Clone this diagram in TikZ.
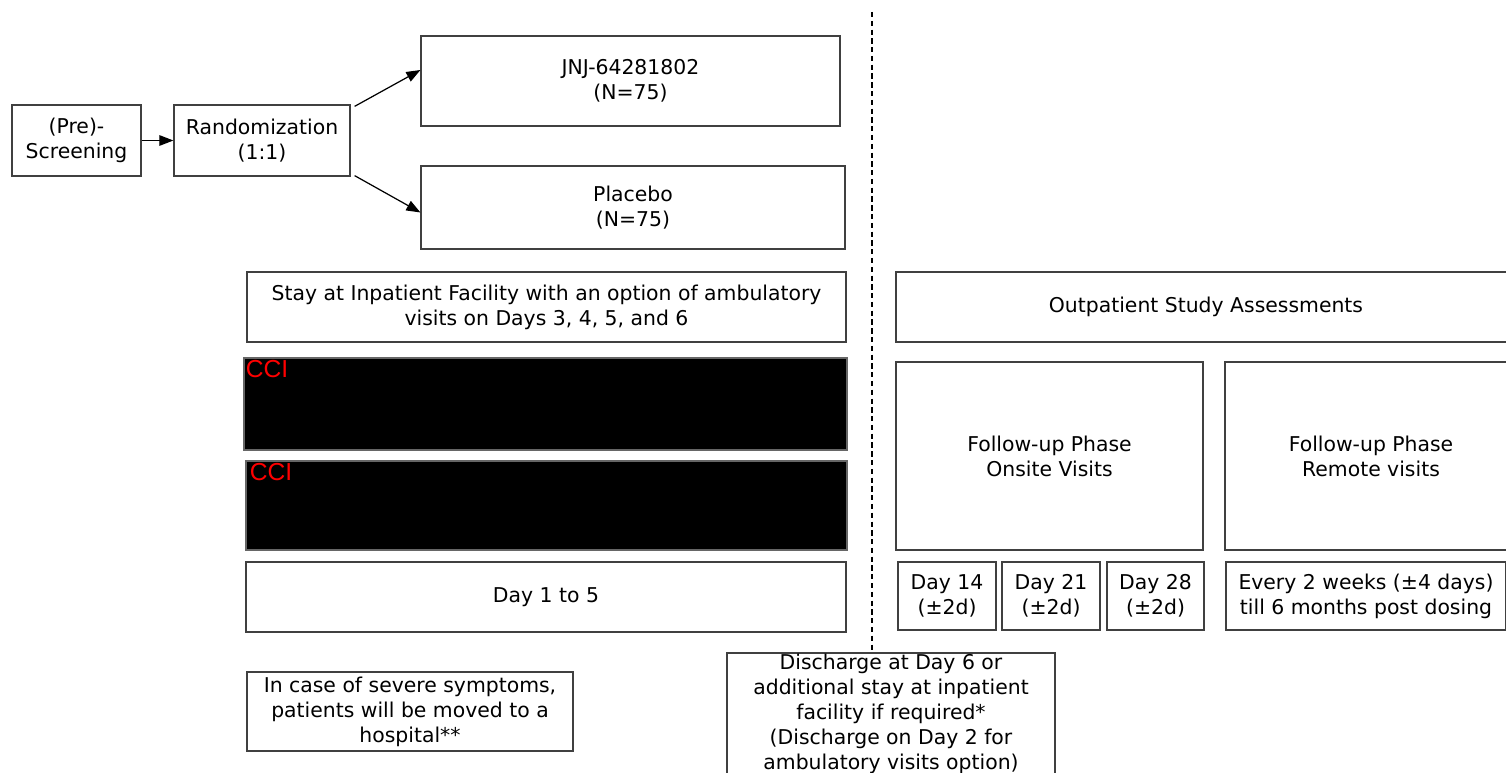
\documentclass[tikz,border=0pt]{standalone}
\usepackage{fontspec}
\setmainfont{DejaVu Sans}
\newfontfamily\ccifont{Liberation Sans}
\usepackage{xcolor}
\usetikzlibrary{arrows.meta}

\begin{document}
\begin{tikzpicture}[x=0.02cm,y=-0.02cm,
    font=\fontsize{11.6}{14.2}\selectfont,
    box/.style={draw=black!75,line width=0.7pt,fill=white,align=center,inner sep=0pt},
    hidden/.style={draw=black!60,line width=0.7pt,fill=black},
    ccilab/.style={anchor=north west,inner sep=0pt,text=red,font=\ccifont\fontsize{14}{15}\selectfont},
    arr/.style={-{Triangle[length=8pt,width=6pt]},line width=0.7pt},
    divline/.style={line width=0.8pt,dash pattern=on 3pt off 2pt}]
      \clip (0,0) rectangle (1506,773);
      \fill[white] (0,0) rectangle (1506,773);
      % Screening and randomization
      \node[box,minimum width=2.58cm,minimum height=1.42cm] (pre) at (76.5,140.5) {(Pre)-\\Screening};
      \node[box,minimum width=3.52cm,minimum height=1.42cm] (rand) at (262,140.5) {Randomization\\(1:1)};
      \node[box,minimum width=8.38cm,minimum height=1.8cm] (jnj) at (630.5,81) {JNJ-64281802\\(N=75)};
      \node[box,minimum width=8.48cm,minimum height=1.66cm] (plac) at (633,207.5) {Placebo\\(N=75)};
      % Arrows
      \draw[arr] (pre) -- (rand);
      \draw[arr] ([xshift=0.08cm,yshift=-0.04cm]rand.north east) -- ([yshift=0.22cm]jnj.west);
      \draw[arr] ([xshift=0.08cm,yshift=0.02cm]rand.south east) -- ([yshift=-0.1cm]plac.west);
      % Inpatient part
      \node[box,minimum width=11.98cm,minimum height=1.4cm] (inpat) at (546.5,307) {Stay at Inpatient Facility with an option of ambulatory\\visits on Days 3, 4, 5, and 6};
      \node[hidden,minimum width=12.06cm,minimum height=1.84cm] (cciA) at (545.5,404) {};
      \node[hidden,minimum width=12.02cm,minimum height=1.78cm] (cciB) at (546.5,505.5) {};
      \node[ccilab] (cciAlab) at ([xshift=0.04cm,yshift=-0.06cm]cciA.north west) {CCI};
      \node[ccilab] (cciBlab) at ([xshift=0.08cm,yshift=-0.06cm]cciB.north west) {CCI};
      \node[box,minimum width=12cm,minimum height=1.4cm] (days) at (546,597) {Day 1 to 5};
      \node[box,minimum width=6.52cm,minimum height=1.58cm] (severe) at (410,711.5) {In case of severe symptoms,\\patients will be moved to a\\hospital**};
      % Outpatient part
      \node[box,minimum width=12.4cm,minimum height=1.4cm] (outpat) at (1206,307) {Outpatient Study Assessments};
      \node[box,minimum width=6.14cm,minimum height=3.76cm] (onsite) at (1049.5,456) {Follow-up Phase\\Onsite Visits};
      \node[box,minimum width=5.84cm,minimum height=3.76cm] (remote) at (1371,456) {Follow-up Phase\\Remote visits};
      \node[box,minimum width=1.96cm,minimum height=1.36cm] (d14) at (947,596) {Day 14\\(±2d)};
      \node[box,minimum width=1.96cm,minimum height=1.36cm] (d21) at (1051,596) {Day 21\\(±2d)};
      \node[box,minimum width=1.94cm,minimum height=1.36cm] (d28) at (1155.5,596) {Day 28\\(±2d)};
      \node[box,minimum width=5.6cm,minimum height=1.36cm] (every) at (1366,596) {Every 2 weeks (±4 days)\\till 6 months post dosing};
      \node[box,minimum width=6.56cm,minimum height=2.42cm] (disch) at (891,713.5) {Discharge at Day 6 or\\additional stay at inpatient\\facility if required*\\(Discharge on Day 2 for\\ambulatory visits option)};
      % Divider
      \coordinate (divtop) at (872,12);
      \draw[divline] (divtop) -- (divtop |- disch.north);
\end{tikzpicture}
\end{document}
